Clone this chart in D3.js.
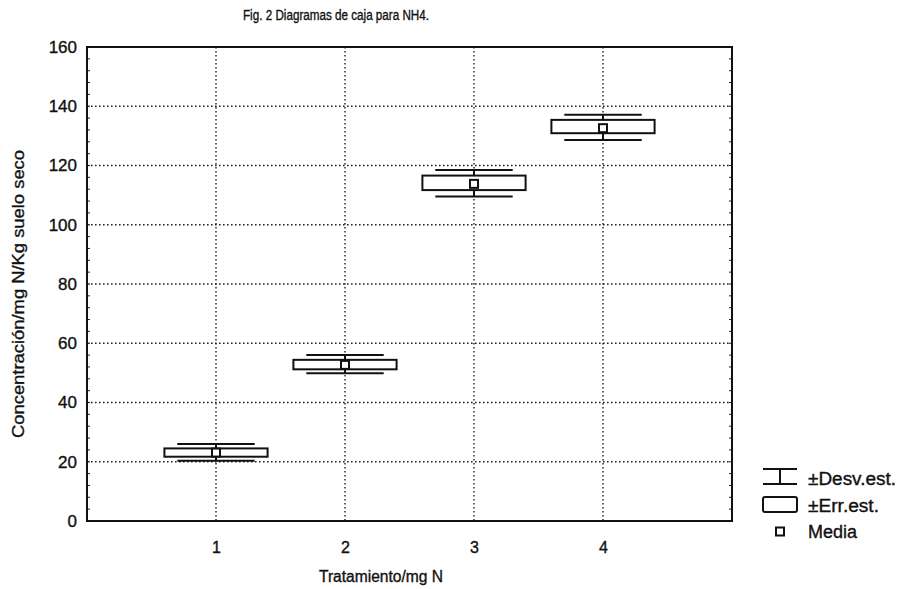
<!DOCTYPE html>
<html>
<head>
<meta charset="utf-8">
<script src="https://cdn.jsdelivr.net/npm/d3@7"></script>
<style>
  body { margin: 0; background: #fff; }
  text { font-family: Arial, "Liberation Sans", sans-serif; fill: #111; stroke: #111; stroke-width: 0.35px; }
</style>
</head>
<body>
<svg width="900" height="589"></svg>
<script>
// data
const treatments = [1, 2, 3, 4];
const means   = [23.1, 52.7, 113.8, 132.6];
const seLow   = [21.7, 51.2, 111.7, 130.9];
const seHigh  = [24.5, 54.4, 116.6, 135.4];
const sdLow   = [20.3, 49.9, 109.5, 128.6];
const sdHigh  = [26.0, 56.0, 118.5, 137.1];
const yTicks  = [0, 20, 40, 60, 80, 100, 120, 140, 160];

const svg = d3.select('svg');
const margin = { top: 47, left: 87, right: 168, bottom: 68 };
const width = +svg.attr('width');
const height = +svg.attr('height');
const innerW = width - margin.left - margin.right;
const innerH = height - margin.top - margin.bottom;

const x = d3.scaleLinear().domain([0, 5]).range([0, innerW]);
const y = d3.scaleLinear().domain([0, 160]).range([innerH, 0]);

const g = svg.append('g').attr('transform', `translate(${margin.left},${margin.top})`);

// dotted grid
const dots = '1.6,2.4';
g.append('g').selectAll('line').data(yTicks.slice(1, -1))
  .enter().append('line')
    .attr('x1', 0).attr('x2', innerW)
    .attr('y1', d => y(d)).attr('y2', d => y(d))
    .attr('stroke', '#222').attr('stroke-width', 1.4)
    .attr('stroke-dasharray', dots);
g.append('g').selectAll('line').data(treatments)
  .enter().append('line')
    .attr('x1', d => x(d)).attr('x2', d => x(d))
    .attr('y1', 0).attr('y2', innerH)
    .attr('stroke', '#222').attr('stroke-width', 1.4)
    .attr('stroke-dasharray', dots);

// minor ticks on left and right sides
const minor = d3.range(0, 161, 4);
g.append('g').selectAll('line').data(minor)
  .enter().append('line')
    .attr('x1', 0).attr('x2', 3)
    .attr('y1', d => y(d)).attr('y2', d => y(d))
    .attr('stroke', '#222');
g.append('g').selectAll('line').data(minor)
  .enter().append('line')
    .attr('x1', innerW - 3).attr('x2', innerW)
    .attr('y1', d => y(d)).attr('y2', d => y(d))
    .attr('stroke', '#222');

// frame
g.append('rect')
  .attr('width', innerW).attr('height', innerH)
  .attr('fill', 'none').attr('stroke', '#111').attr('stroke-width', 2);

// axes
const yAxis = g.append('g').call(d3.axisLeft(y).tickValues(yTicks).tickSize(0).tickPadding(10));
yAxis.select('.domain').remove();
yAxis.selectAll('text').style('font-size', '17px')
  .style('font-family', 'Arial, "Liberation Sans", sans-serif').attr('fill', '#111');

const xAxis = g.append('g').attr('transform', `translate(0,${innerH})`)
  .call(d3.axisBottom(x).tickValues(treatments).tickFormat(d3.format('d')).tickSize(0).tickPadding(21));
xAxis.select('.domain').remove();
xAxis.selectAll('text').style('font-size', '16px')
  .style('font-family', 'Arial, "Liberation Sans", sans-serif').attr('fill', '#111');

// boxes
const rows = treatments.map((t, i) => ({
  t, mean: means[i], seL: seLow[i], seH: seHigh[i], sdL: sdLow[i], sdH: sdHigh[i]
}));
const boxHalf = 0.4, capHalf = 0.3;
const box = g.append('g').selectAll('g').data(rows).enter().append('g')
  .attr('stroke', '#111').attr('stroke-width', 2).attr('fill', 'none');

box.append('line')
  .attr('x1', d => x(d.t)).attr('x2', d => x(d.t))
  .attr('y1', d => y(d.sdH)).attr('y2', d => y(d.sdL));
box.append('line')
  .attr('x1', d => x(d.t - capHalf)).attr('x2', d => x(d.t + capHalf))
  .attr('y1', d => y(d.sdH)).attr('y2', d => y(d.sdH));
box.append('line')
  .attr('x1', d => x(d.t - capHalf)).attr('x2', d => x(d.t + capHalf))
  .attr('y1', d => y(d.sdL)).attr('y2', d => y(d.sdL));
box.append('rect')
  .attr('x', d => x(d.t - boxHalf)).attr('width', d => x(d.t + boxHalf) - x(d.t - boxHalf))
  .attr('y', d => y(d.seH)).attr('height', d => y(d.seL) - y(d.seH))
  .attr('fill', '#fff');
box.append('rect')
  .attr('x', d => x(d.t) - 4).attr('y', d => y(d.mean) - 4)
  .attr('width', 8).attr('height', 8).attr('fill', '#fff');

// title and labels
svg.append('text').attr('x', 243).attr('y', 20)
  .style('font-size', '14px')
  .attr('textLength', 186).attr('lengthAdjust', 'spacingAndGlyphs')
  .text('Fig. 2 Diagramas de caja para NH4.');
svg.append('text').attr('x', 319).attr('y', 582)
  .style('font-size', '16px')
  .attr('textLength', 124).attr('lengthAdjust', 'spacingAndGlyphs')
  .text('Tratamiento/mg N');
svg.append('text').attr('transform', `translate(24,${margin.top + innerH / 2 + 10}) rotate(-90)`)
  .attr('text-anchor', 'middle').style('font-size', '16px')
  .attr('textLength', 288).attr('lengthAdjust', 'spacingAndGlyphs')
  .text('Concentración/mg N/Kg suelo seco');

// legend
const lg = svg.append('g').attr('transform', 'translate(763,469)')
  .attr('stroke', '#111').attr('stroke-width', 2).attr('fill', 'none');
lg.append('line').attr('x1', 0).attr('x2', 34).attr('y1', 0).attr('y2', 0);
lg.append('line').attr('x1', 0).attr('x2', 34).attr('y1', 15).attr('y2', 15);
lg.append('line').attr('x1', 17).attr('x2', 17).attr('y1', 0).attr('y2', 15);
lg.append('rect').attr('x', 0).attr('y', 28).attr('width', 34).attr('height', 15).attr('rx', 2);
lg.append('rect').attr('x', 13).attr('y', 58.5).attr('width', 8).attr('height', 8);

const legendText = ['±Desv.est.', '±Err.est.', 'Media'];
const legendLen = [88, 71, 49];
svg.append('g').selectAll('text').data(legendText).enter().append('text')
  .attr('x', 808).attr('y', (d, i) => 485 + i * 26.5)
  .style('font-size', '18px')
  .attr('textLength', (d, i) => legendLen[i]).attr('lengthAdjust', 'spacingAndGlyphs')
  .text(d => d);
</script>
</body>
</html>
